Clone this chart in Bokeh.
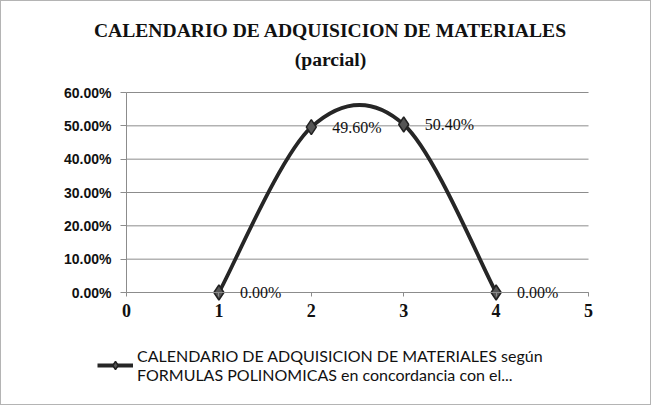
import numpy as np
from bokeh.plotting import figure
from bokeh.models import (Range1d, FixedTicker, Legend, LegendItem, ColumnDataSource,
                          NumeralTickFormatter, LabelSet, Title)
from bokeh.embed import file_html
from bokeh.resources import INLINE

# ---- data ----
periods = [1, 2, 3, 4]
share = [0.0, 0.496, 0.504, 0.0]
point_labels = ["0.00%", "49.60%", "50.40%", "0.00%"]
x_ticks = [0, 1, 2, 3, 4, 5]
y_ticks = [0.0, 0.1, 0.2, 0.3, 0.4, 0.5, 0.6]
title_line1 = "CALENDARIO DE ADQUISICION DE MATERIALES"
title_line2 = "(parcial)"
series_name = ("CALENDARIO DE ADQUISICION DE MATERIALES según\n"
               "FORMULAS POLINOMICAS en concordancia con el...")

# ---- smooth (Catmull-Rom style) bezier segments computed from the data ----
xs = np.array(periods, dtype=float)
ys = np.array(share, dtype=float)
xp = np.concatenate([[xs[0]], xs, [xs[-1]]])
yp = np.concatenate([[ys[0]], ys, [ys[-1]]])
n = len(xs)
seg = dict(x0=[], y0=[], x1=[], y1=[], cx0=[], cy0=[], cx1=[], cy1=[])
for i in range(n - 1):
    seg["x0"].append(xp[i + 1]); seg["y0"].append(yp[i + 1])
    seg["x1"].append(xp[i + 2]); seg["y1"].append(yp[i + 2])
    seg["cx0"].append(xp[i + 1] + (xp[i + 2] - xp[i]) / 6)
    seg["cy0"].append(yp[i + 1] + (yp[i + 2] - yp[i]) / 6)
    seg["cx1"].append(xp[i + 2] - (xp[i + 3] - xp[i + 1]) / 6)
    seg["cy1"].append(yp[i + 2] - (yp[i + 3] - yp[i + 1]) / 6)

x_lo, x_hi = x_ticks[0], x_ticks[-1]
y_lo, y_hi = y_ticks[0], y_ticks[-1]

# frame is larger than the plot area so that labels/legend are not clipped
p = figure(width=651, height=405, output_backend="svg", toolbar_location=None,
           x_range=Range1d(-0.9307, 5.346), y_range=Range1d(-0.309, 0.636),
           min_border_left=39, min_border_right=32, min_border_top=79,
           min_border_bottom=11)
p.styles = {"border": "1px solid #b4b4b4"}

def style_title(t, standoff):
    t.align = "center"
    t.text_font = "Liberation Serif"
    t.text_font_size = "19.6px"
    t.text_font_style = "bold"
    t.text_color = "#111111"
    t.standoff = standoff

p.title.text = title_line1
style_title(p.title, -11)
t2 = Title(text=title_line2)
style_title(t2, 22)
p.add_layout(t2, "above")

p.outline_line_color = None
p.xgrid.grid_line_color = None
p.ygrid.grid_line_color = None

# horizontal gridlines across the plot area
p.segment(x0=[x_lo] * len(y_ticks), x1=[x_hi] * len(y_ticks), y0=y_ticks, y1=y_ticks,
          line_color="#8c8c8c", line_width=1)

p.yaxis.fixed_location = x_lo
p.yaxis.bounds = (y_lo, y_hi)
p.yaxis.ticker = FixedTicker(ticks=y_ticks)
p.yaxis.formatter = NumeralTickFormatter(format="0.00%")
p.yaxis.axis_line_color = "#8c8c8c"
p.yaxis.major_tick_line_color = "#8c8c8c"
p.yaxis.major_tick_out = 6
p.yaxis.major_tick_in = 0
p.yaxis.minor_tick_line_color = None
p.yaxis.major_label_text_font = "Liberation Sans"
p.yaxis.major_label_text_font_style = "bold"
p.yaxis.major_label_text_font_size = "14px"
p.yaxis.major_label_text_color = "#111111"
p.yaxis.major_label_standoff = 9

p.xaxis.fixed_location = y_lo
p.xaxis.bounds = (x_lo, x_hi)
p.xaxis.ticker = FixedTicker(ticks=x_ticks)
p.xaxis.axis_line_color = "#8c8c8c"
p.xaxis.major_tick_line_color = "#8c8c8c"
p.xaxis.major_tick_out = 4
p.xaxis.major_tick_in = 0
p.xaxis.minor_tick_line_color = None
p.xaxis.major_label_text_font = "Liberation Serif"
p.xaxis.major_label_text_font_style = "bold"
p.xaxis.major_label_text_font_size = "18px"
p.xaxis.major_label_text_color = "#111111"
p.xaxis.major_label_standoff = 7

curve = p.bezier(x0="x0", y0="y0", x1="x1", y1="y1", cx0="cx0", cy0="cy0",
                 cx1="cx1", cy1="cy1", source=ColumnDataSource(seg),
                 line_color="#262626", line_width=3.8)
src = ColumnDataSource(dict(x=periods, y=share, lab=point_labels))
pts = p.scatter("x", "y", source=src, marker="diamond", size=15,
                fill_color="#555555", line_color="#222222", line_width=1.5)

p.add_layout(LabelSet(x="x", y="y", text="lab", source=src, x_offset=21, y_offset=0,
                      text_baseline="middle", text_font="Liberation Serif",
                      text_font_size="16px", text_color="#111111"))

legend = Legend(items=[LegendItem(label=series_name, renderers=[curve, pts])],
                location=(57, 11), orientation="vertical",
                label_text_font="Lato", label_text_font_size="16px",
                label_text_color="#111111", glyph_width=36, label_standoff=4,
                border_line_color=None, background_fill_alpha=0, margin=0,
                padding=0)
p.add_layout(legend)

open("out.html", "w").write(file_html(p, INLINE))
